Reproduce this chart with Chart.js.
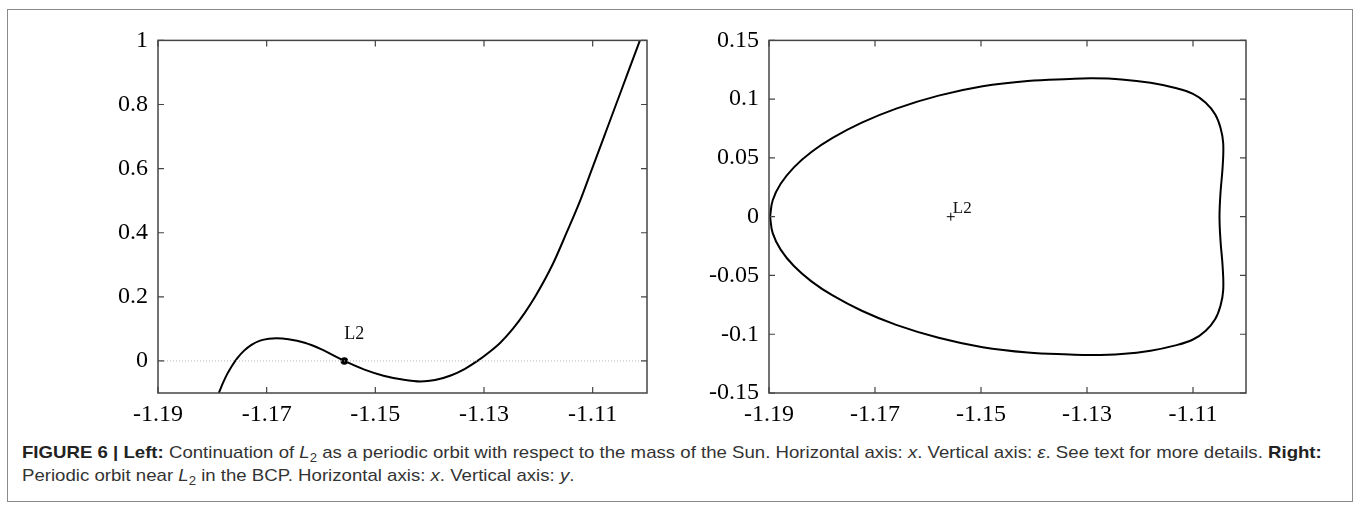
<!DOCTYPE html>
<html>
<head>
<meta charset="utf-8">
<script src="https://cdn.jsdelivr.net/npm/chart.js@4.4.1/dist/chart.umd.min.js"></script>
<style>
  body { margin: 0; background: #fff; width: 1360px; height: 511px; overflow: hidden; position: relative; }
  .frame { position: absolute; left: 7px; top: 9px; width: 1344px; height: 491px; border: 1.5px solid #8a8a8a; }
  canvas { position: absolute; top: 16px; }
  #left { left: 40px; }
  #right { left: 650px; }
  .caption { position: absolute; left: 22px; font-family: "Liberation Sans", Arial, sans-serif;
             font-size: 17px; line-height: 20px; color: #333; white-space: nowrap; transform-origin: 0 0; }
  .caption b { color: #222; }
  .caption sub { font-size: 12px; vertical-align: -4px; line-height: 0; }
</style>
</head>
<body>
<div class="frame"></div>
<canvas id="left" width="620" height="424"></canvas>
<canvas id="right" width="620" height="424"></canvas>
<div class="caption" id="cap1"><b>FIGURE 6 | Left:</b> Continuation of <i>L</i><sub>2</sub> as a periodic orbit with respect to the mass of the Sun. Horizontal axis: <i>x</i>. Vertical axis: <i>ε</i>. See text for more details. <b>Right:</b></div>
<div class="caption" id="cap2">Periodic orbit near <i>L</i><sub>2</sub> in the BCP. Horizontal axis: <i>x</i>. Vertical axis: <i>y</i>.</div>
<script>
// continuation of L2: x against epsilon
const contX = [-1.1788, -1.1781, -1.1773, -1.1764, -1.1754, -1.1742, -1.1728, -1.1712, -1.1696, -1.1682,
               -1.1660, -1.1630, -1.1600, -1.1557, -1.1520, -1.1485, -1.1450, -1.1417, -1.1390, -1.1360,
               -1.1335, -1.1312, -1.1290, -1.1270, -1.1247, -1.1225, -1.1206, -1.1174, -1.1148, -1.1123,
               -1.1101, -1.1079, -1.1057, -1.1035, -1.1013];
const contEps = [-0.100, -0.071, -0.042, -0.0155, 0.0088, 0.0315, 0.0504, 0.0634, 0.0692, 0.0709,
                 0.068, 0.057, 0.037, 0.000, -0.027, -0.046, -0.058, -0.064, -0.0595, -0.0445,
                 -0.0244, 0.000, 0.028, 0.057, 0.100, 0.150, 0.200, 0.300, 0.400, 0.500,
                 0.600, 0.700, 0.800, 0.900, 1.000];

// periodic orbit near L2 (x, y), closed loop
const orbitX = [-1.1898, -1.1893, -1.1878, -1.1853, -1.1820, -1.1780, -1.1725, -1.1660, -1.1580, -1.1497,
                -1.1412, -1.1333, -1.1290, -1.1235, -1.1180, -1.1135, -1.1100, -1.1076, -1.1058, -1.1048,
                -1.1043, -1.1044, -1.1048, -1.1050,
                -1.1048, -1.1044, -1.1043, -1.1048, -1.1058, -1.1076, -1.1100, -1.1135, -1.1180, -1.1235,
                -1.1290, -1.1333, -1.1412, -1.1497, -1.1580, -1.1660, -1.1725, -1.1780, -1.1820, -1.1853,
                -1.1878, -1.1893, -1.1898];
const orbitY = [0.000, 0.014, 0.028, 0.042, 0.055, 0.067, 0.080, 0.092, 0.103, 0.111,
                0.1155, 0.1172, 0.1177, 0.1168, 0.1140, 0.1097, 0.1045, 0.0970, 0.0870, 0.0755,
                0.0625, 0.0430, 0.0210, 0.000,
                -0.0210, -0.0430, -0.0625, -0.0755, -0.0870, -0.0970, -0.1045, -0.1097, -0.1140, -0.1168,
                -0.1177, -0.1172, -0.1155, -0.111, -0.103, -0.092, -0.080, -0.067, -0.055, -0.042,
                -0.028, -0.014, 0.000];

const l2X = -1.1557;
const l2Y = 0;

const xTicks = [-1.19, -1.17, -1.15, -1.13, -1.11];
const xTickLabels = ['-1.19', '-1.17', '-1.15', '-1.13', '-1.11'];
const leftYTicks = [0, 0.2, 0.4, 0.6, 0.8, 1];
const leftYTickLabels = ['0', '0.2', '0.4', '0.6', '0.8', '1'];
const rightYTicks = [-0.15, -0.1, -0.05, 0, 0.05, 0.1, 0.15];
const rightYTickLabels = ['-0.15', '-0.1', '-0.05', '0', '0.05', '0.1', '0.15'];

Chart.defaults.font.family = '"Liberation Serif", "Times New Roman", serif';
Chart.defaults.color = '#000';

const pts = (xs, ys) => xs.map((x, i) => ({ x, y: ys[i] }));

// box around the plot with inward ticks on all four sides
const boxTicks = {
  id: 'boxTicks',
  afterDatasetsDraw(chart) {
    const { ctx, chartArea: a, scales: { x, y } } = chart;
    ctx.save();
    ctx.strokeStyle = '#444';
    ctx.lineWidth = 1.5;
    ctx.strokeRect(a.left, a.top, a.right - a.left, a.bottom - a.top);
    ctx.lineWidth = 1.2;
    ctx.beginPath();
    x.ticks.forEach(t => {
      const px = x.getPixelForValue(t.value);
      ctx.moveTo(px, a.bottom); ctx.lineTo(px, a.bottom - 6);
      ctx.moveTo(px, a.top); ctx.lineTo(px, a.top + 6);
    });
    y.ticks.forEach(t => {
      const py = y.getPixelForValue(t.value);
      ctx.moveTo(a.left, py); ctx.lineTo(a.left + 6, py);
      ctx.moveTo(a.right, py); ctx.lineTo(a.right - 6, py);
    });
    ctx.stroke();
    ctx.restore();
  }
};

// "L2" text next to the equilibrium point
const l2Label = {
  id: 'l2Label',
  afterDatasetsDraw(chart, args, opts) {
    const { ctx, scales: { x, y } } = chart;
    ctx.save();
    ctx.font = opts.size + 'px "Liberation Serif", serif';
    ctx.fillStyle = '#111';
    ctx.textAlign = opts.align;
    ctx.textBaseline = 'alphabetic';
    ctx.fillText('L2', x.getPixelForValue(l2X) + opts.dx, y.getPixelForValue(l2Y) + opts.dy);
    ctx.restore();
  }
};

function xAxis() {
  return {
    type: 'linear', min: -1.19, max: -1.10,
    afterBuildTicks: s => { s.ticks = xTicks.map(v => ({ value: v })); },
    afterFit: s => { s.height = 47; },
    grid: { display: false, drawTicks: false },
    border: { display: false },
    ticks: { padding: 7, font: { size: 24 }, maxRotation: 0, autoSkip: false,
             callback: (v, i) => xTickLabels[i] }
  };
}

function yAxis(min, max, ticks, labels, width) {
  return {
    type: 'linear', min, max,
    afterBuildTicks: s => { s.ticks = ticks.map(v => ({ value: v })); },
    afterFit: s => { s.width = width; },
    grid: { display: false, drawTicks: false },
    border: { display: false },
    ticks: { padding: 10, font: { size: 24 }, autoSkip: false,
             callback: (v, i) => labels[i] }
  };
}

const common = {
  responsive: false,
  animation: false,
  events: [],
  plugins: { legend: { display: false }, tooltip: { enabled: false } }
};

new Chart(document.getElementById('left'), {
  type: 'scatter',
  data: {
    datasets: [
      { data: [{ x: -1.19, y: 0 }, { x: -1.10, y: 0 }], showLine: true, borderColor: '#b5b5b5',
        borderWidth: 1, borderDash: [1, 2], pointRadius: 0 },
      { data: pts(contX, contEps), showLine: true, borderColor: '#000', borderWidth: 2,
        cubicInterpolationMode: 'monotone', pointRadius: 0 },
      { data: [{ x: l2X, y: l2Y }], pointRadius: 3.8, borderWidth: 0, backgroundColor: '#000' }
    ]
  },
  options: {
    ...common,
    layout: { padding: { top: 20, right: 13, left: 0, bottom: 0 } },
    scales: { x: xAxis(), y: yAxis(-0.1, 1, leftYTicks, leftYTickLabels, 118) },
    plugins: { ...common.plugins, l2Label: { dx: 10, dy: -22, size: 18, align: 'center' } }
  },
  plugins: [boxTicks, l2Label]
});

new Chart(document.getElementById('right'), {
  type: 'scatter',
  data: {
    datasets: [
      { data: pts(orbitX, orbitY), showLine: true, borderColor: '#000', borderWidth: 2,
        tension: 0.4, pointRadius: 0 },
      { data: [{ x: l2X, y: l2Y }], pointStyle: 'cross', pointRadius: 4, borderWidth: 1, borderColor: '#000' }
    ]
  },
  options: {
    ...common,
    layout: { padding: { top: 20, right: 24, left: 0, bottom: 0 } },
    scales: { x: xAxis(), y: yAxis(-0.15, 0.15, rightYTicks, rightYTickLabels, 119) },
    plugins: { ...common.plugins, l2Label: { dx: 2, dy: -4, size: 17, align: 'left' } }
  },
  plugins: [boxTicks, l2Label]
});

// caption lines: stretch to the figure width
const cap1 = document.getElementById('cap1');
const cap2 = document.getElementById('cap2');
cap1.style.top = '443px';
cap2.style.top = '466px';
const k = 1300 / cap1.scrollWidth;
cap1.style.transform = cap2.style.transform = `scaleX(${k})`;
</script>
</body>
</html>
